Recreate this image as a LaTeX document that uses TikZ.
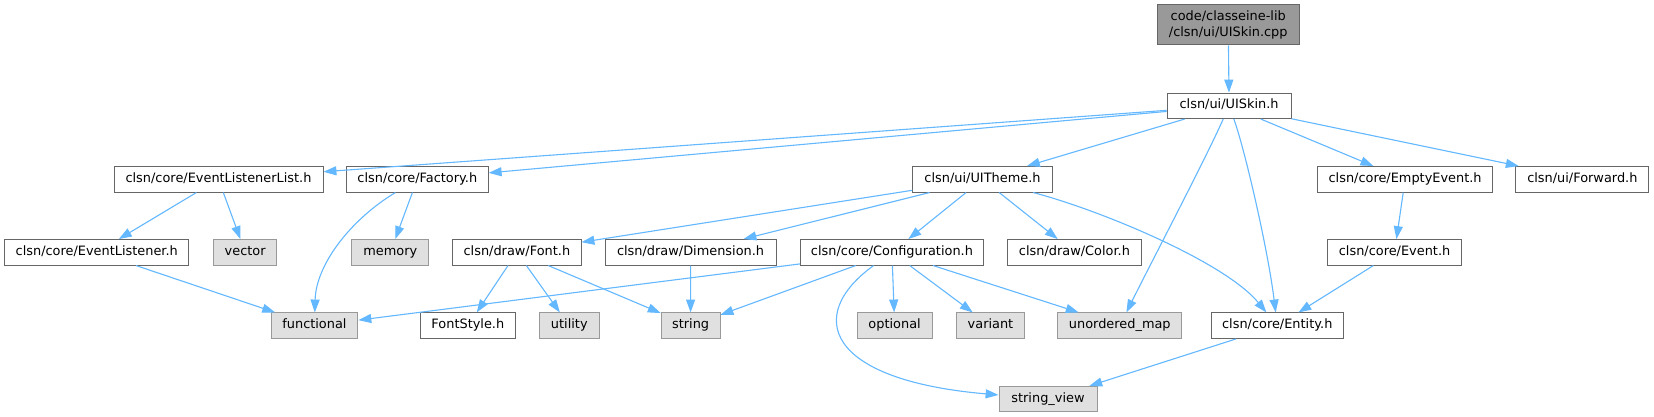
\documentclass[tikz,border=0pt]{standalone}
\usepackage{fontspec}
\setmainfont{DejaVu Sans}
\usetikzlibrary{arrows.meta}
\definecolor{edgeblue}{HTML}{63B8FF}
\definecolor{bordergray}{HTML}{666666}
\definecolor{rootfill}{HTML}{999999}
\definecolor{sysborder}{HTML}{999999}
\definecolor{sysfill}{HTML}{E0E0E0}
\newcommand{\nodefont}{\fontsize{12.9}{16.2}\selectfont}
\tikzset{
  boxbase/.style={draw, line width=1.0pt, minimum height=25.5pt, inner sep=0pt, font=\nodefont, text height=9.4pt, text depth=3pt, text=black},
  inc/.style={boxbase, draw=bordergray, fill=white},
  sys/.style={boxbase, draw=sysborder, fill=sysfill},
  rootbox/.style={draw=bordergray, fill=rootfill, line width=1.0pt, minimum height=40pt, inner sep=0pt, font=\nodefont, align=center, text=black},
  edge/.style={draw=edgeblue, line width=1.1pt, -{Triangle[length=12.9pt,width=9pt]}}
}
\begin{document}
\begin{tikzpicture}[x=1pt,y=-1pt]
\useasboundingbox (0,0) rectangle (1654,417);
\fill[white] (0,0) rectangle (1654,417);
% nodes
\node[rootbox, minimum width=141.5] (root) at (1228.25,25) {code/classeine-lib\\/clsn/ui/UISkin.cpp};
\node[inc, minimum width=123.8] (uiskin) at (1229.1,105.8) {clsn/ui/UISkin.h};
\node[inc, minimum width=209] (ell) at (218.5,179.3) {clsn/core/EventListenerList.h};
\node[inc, minimum width=141.8] (factory) at (417.3,179.3) {clsn/core/Factory.h};
\node[inc, minimum width=139.2] (uitheme) at (982.5,179.3) {clsn/ui/UITheme.h};
\node[inc, minimum width=175.6] (empty) at (1405.1,179.3) {clsn/core/EmptyEvent.h};
\node[inc, minimum width=132.9] (forward) at (1582.35,179.3) {clsn/ui/Forward.h};
\node[inc, minimum width=184.3] (el) at (96.75,252.3) {clsn/core/EventListener.h};
\node[sys, minimum width=63.2] (vector) at (245.2,252.3) {vector};
\node[sys, minimum width=77.1] (memory) at (390.35,252.3) {memory};
\node[inc, minimum width=128.2] (font) at (516.9,252.3) {clsn/draw/Font.h};
\node[inc, minimum width=171.1] (dim) at (690.55,252.3) {clsn/draw/Dimension.h};
\node[inc, minimum width=182.5] (conf) at (891.95,252.3) {clsn/core/Configuration.h};
\node[inc, minimum width=133.8] (color) at (1074.4,252.3) {clsn/draw/Color.h};
\node[inc, minimum width=133.9] (event) at (1394.55,252.3) {clsn/core/Event.h};
\node[sys, minimum width=86.9] (functional) at (314.45,325.7) {functional};
\node[inc, minimum width=94.7] (fontstyle) at (467.85,325.7) {FontStyle.h};
\node[sys, minimum width=60] (utility) at (569.3,325.7) {utility};
\node[sys, minimum width=58.8] (string) at (690.6,325.7) {string};
\node[sys, minimum width=75] (optional) at (894.6,325.7) {optional};
\node[sys, minimum width=68.2] (variant) at (990.5,325.7) {variant};
\node[sys, minimum width=124] (umap) at (1119.8,325.7) {unordered\_map};
\node[inc, minimum width=132.5] (entity) at (1277.25,325.7) {clsn/core/Entity.h};
\node[sys, minimum width=98] (sview) at (1048,399.2) {string\_view};
% edges
\draw[edge] (root) -- (uiskin);
\draw[edge] (uiskin) -- (ell);
\draw[edge] (uiskin) -- (factory);
\draw[edge] (uiskin) -- (uitheme);
\draw[edge] (uiskin) -- (empty);
\draw[edge] (uiskin) -- (forward);
\draw[edge] (uiskin) .. controls (1205,160) and (1155,255) .. (umap);
\draw[edge] (uiskin) .. controls (1245,150) and (1268,250) .. (entity);
\draw[edge] (ell) -- (el);
\draw[edge] (ell) -- (vector);
\draw[edge] (factory) .. controls (350,220) and (316,265) .. (functional);
\draw[edge] (factory) -- (memory);
\draw[edge] (el) -- (functional);
\draw[edge] (uitheme) -- (font);
\draw[edge] (uitheme) -- (dim);
\draw[edge] (uitheme) -- (conf);
\draw[edge] (uitheme) -- (color);
\draw[edge] (uitheme) .. controls (1100,210) and (1225,262) .. (entity);
\draw[edge] (font) -- (fontstyle);
\draw[edge] (font) -- (utility);
\draw[edge] (font) -- (string);
\draw[edge] (dim) -- (string);
\draw[edge] (conf) -- (functional);
\draw[edge] (conf) -- (string);
\draw[edge] (conf) .. controls (805,315) and (825,380) .. (sview);
\draw[edge] (conf) -- (optional);
\draw[edge] (conf) -- (variant);
\draw[edge] (conf) -- (umap);
\draw[edge] (empty) -- (event);
\draw[edge] (event) -- (entity);
\draw[edge] (entity) -- (sview);
\end{tikzpicture}
\end{document}
